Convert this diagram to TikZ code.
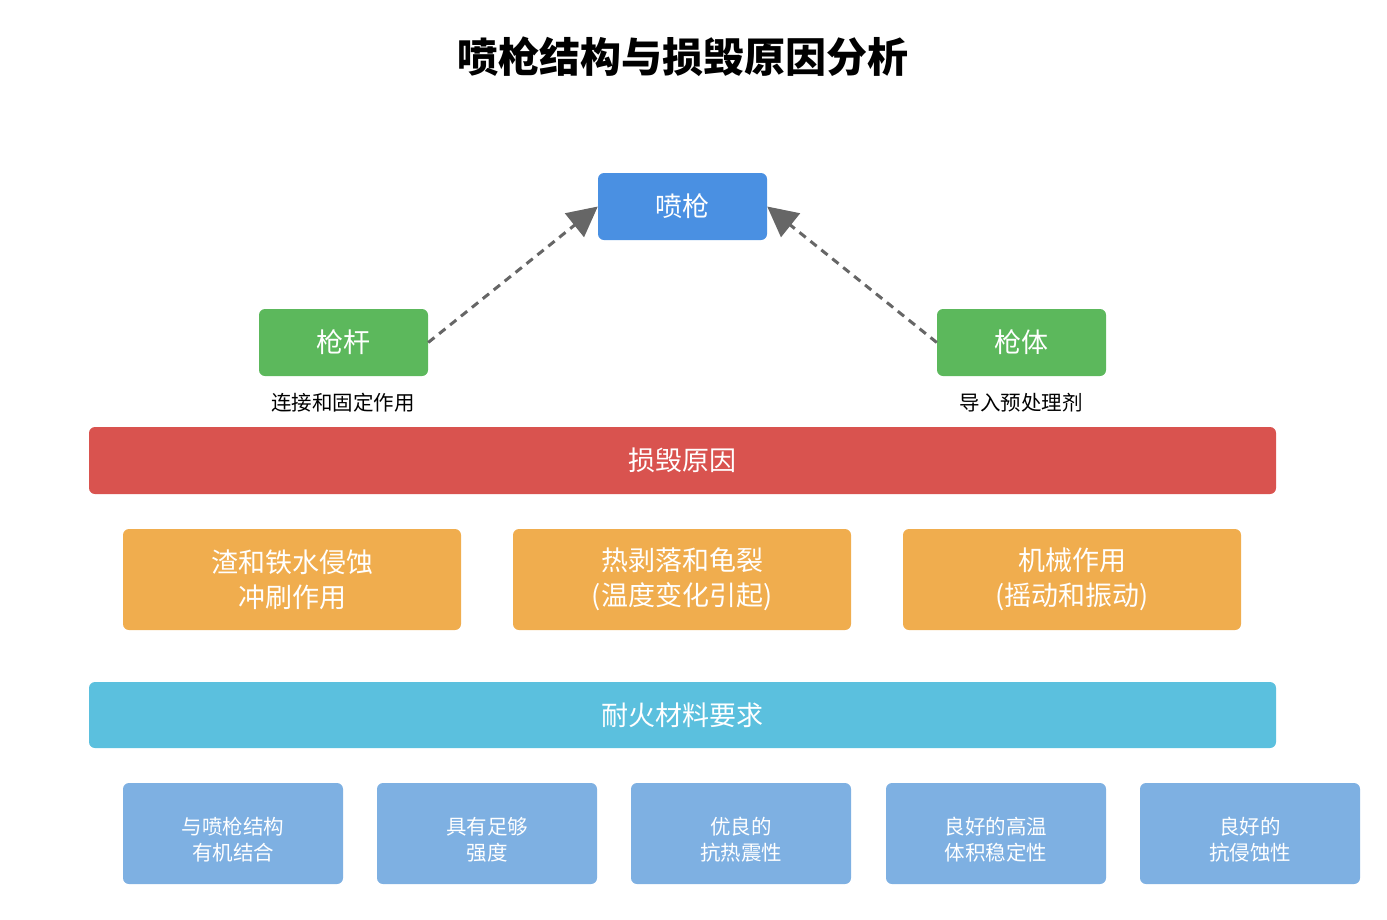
\documentclass[tikz,border=0pt]{standalone}
\usepackage{fontspec}
\setmainfont{Noto Sans CJK SC}
\usetikzlibrary{arrows.meta}
\definecolor{cblue}{HTML}{4A90E2}
\definecolor{cgreen}{HTML}{5CB85C}
\definecolor{cred}{HTML}{D9534F}
\definecolor{corange}{HTML}{F0AD4E}
\definecolor{ccyan}{HTML}{5BC0DE}
\definecolor{clight}{HTML}{7EB0E2}
\definecolor{cgray}{HTML}{666666}
\tikzset{
  box/.style={rounded corners=6pt, text=white, inner sep=0pt, align=center},
  bigtext/.style={font=\fontsize{27}{35}\selectfont},
  smalltext/.style={font=\fontsize{20.5}{26}\selectfont, text=white, align=center, inner sep=0pt},
  link/.style={draw=cgray, line width=3pt, dash pattern=on 8pt off 6pt, -{Triangle[length=30pt,width=30pt]}},
  smallbox/.style={box, fill=clight, minimum width=220pt, minimum height=101pt},
}
\begin{document}
\begin{tikzpicture}[x=1pt,y=-1pt]
\useasboundingbox (0,0) rectangle (1387,919);
\node[font=\fontsize{41}{48}\selectfont\bfseries] (title) at (683,57) {喷枪结构与损毁原因分析};

\node[box,bigtext,fill=cblue,minimum width=169pt,minimum height=67pt] (gun) at (682.5,206.5) {喷枪};
\node[box,bigtext,fill=cgreen,minimum width=169pt,minimum height=67pt] (rod) at (343.5,342.5) {枪杆};
\node[box,bigtext,fill=cgreen,minimum width=169pt,minimum height=67pt] (body) at (1021.5,342.5) {枪体};
\node[font=\fontsize{20.5}{24}\selectfont] (rodlab) at (343,403) {连接和固定作用};
\node[font=\fontsize{20.5}{24}\selectfont] (bodylab) at (1021,403) {导入预处理剂};

\draw[link] (rod.east) -- (gun.west);
\draw[link] (body.west) -- (gun.east);

\node[box,bigtext,fill=cred,minimum width=1187pt,minimum height=67pt] (cause) at (682.5,460.5) {损毁原因};
\node[box,bigtext,fill=corange,minimum width=338pt,minimum height=101pt] (c1) at (292,579.5) {渣和铁水侵蚀\\冲刷作用};
\node[box,bigtext,fill=corange,minimum width=338pt,minimum height=101pt] (c2) at (682,579.5) {热剥落和龟裂\\(温度变化引起)};
\node[box,bigtext,fill=corange,minimum width=338pt,minimum height=101pt] (c3) at (1072,579.5) {机械作用\\(摇动和振动)};

\node[box,bigtext,fill=ccyan,minimum width=1187pt,minimum height=66pt] (req) at (682.5,715) {耐火材料要求};

\node[smallbox] (r1) at (233,833.5) {};
\node[smallbox] (r2) at (487,833.5) {};
\node[smallbox] (r3) at (741,833.5) {};
\node[smallbox] (r4) at (996,833.5) {};
\node[smallbox] (r5) at (1250,833.5) {};
\node[smalltext] (r1t) at ([yshift=-6pt]r1.center) {与喷枪结构\\有机结合};
\node[smalltext] (r2t) at ([yshift=-6pt]r2.center) {具有足够\\强度};
\node[smalltext] (r3t) at ([yshift=-6pt]r3.center) {优良的\\抗热震性};
\node[smalltext] (r4t) at ([yshift=-6pt]r4.center) {良好的高温\\体积稳定性};
\node[smalltext] (r5t) at ([yshift=-6pt]r5.center) {良好的\\抗侵蚀性};
\end{tikzpicture}
\end{document}
